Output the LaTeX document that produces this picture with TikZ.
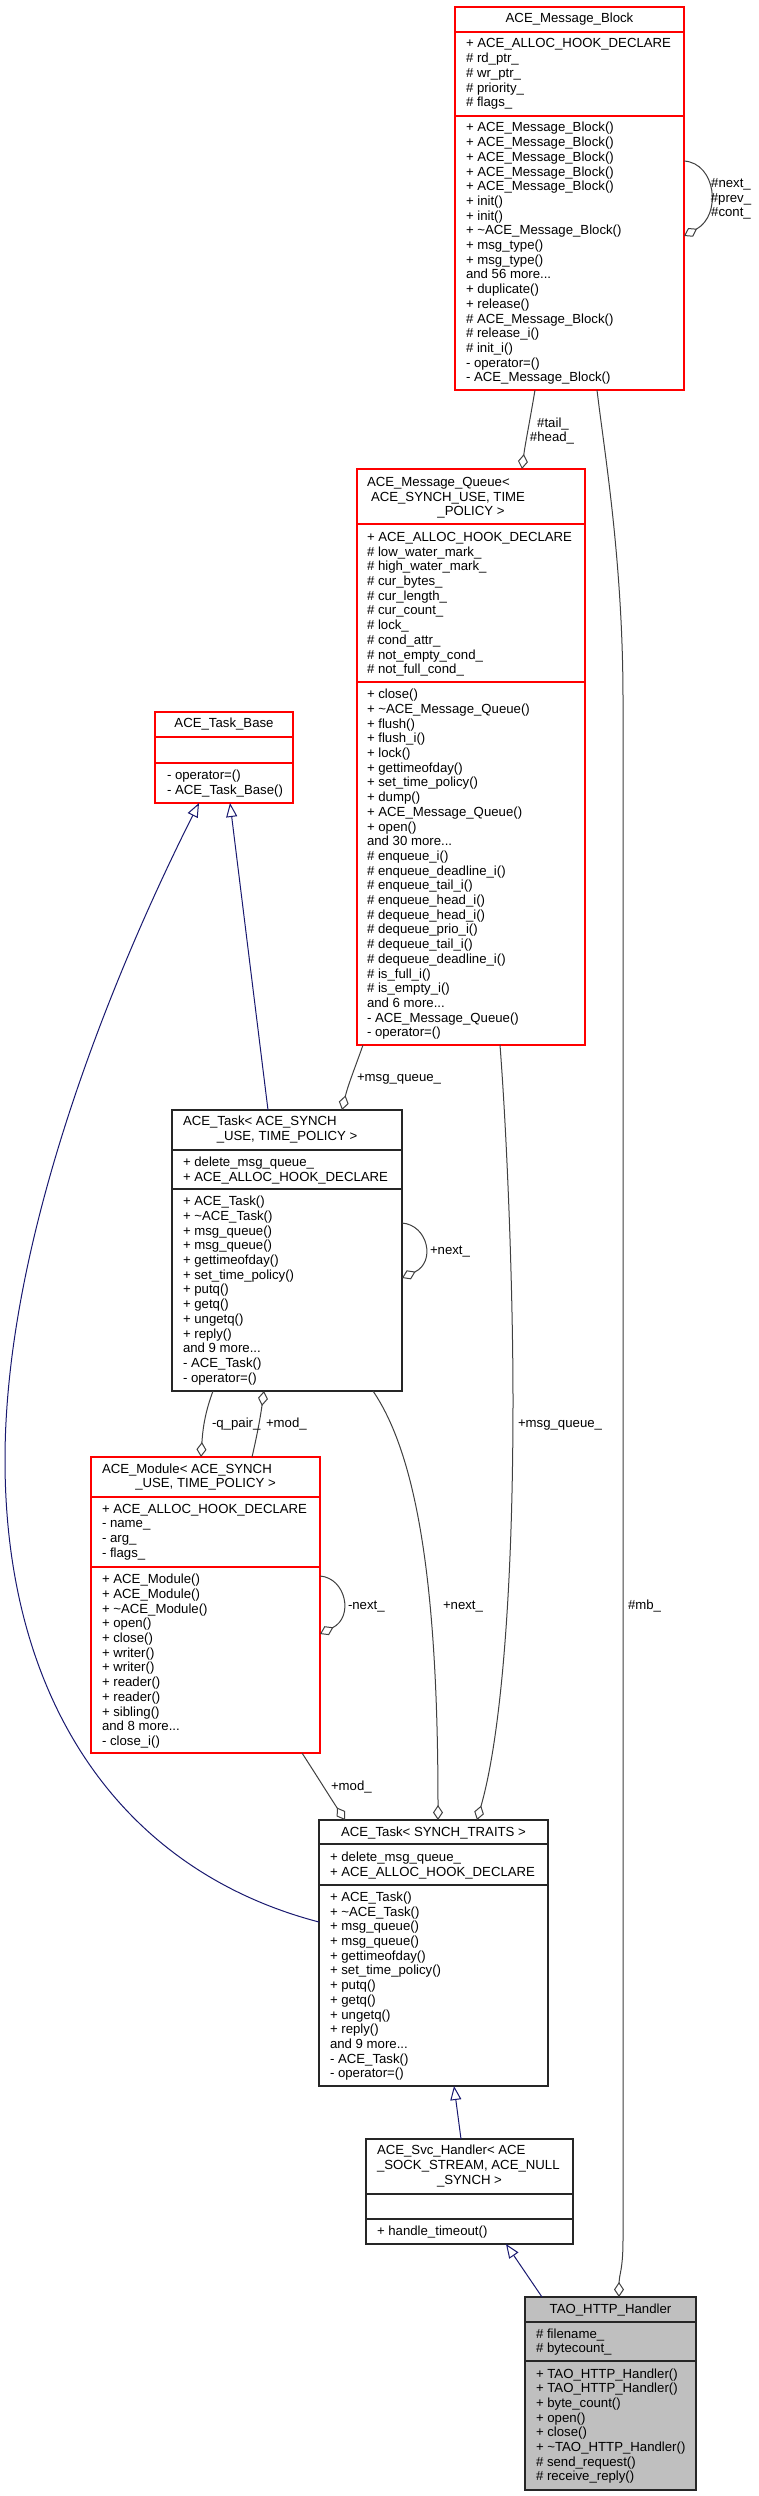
\documentclass[tikz,border=0pt]{standalone}
\usepackage{fontspec}
\setmainfont{Liberation Sans}
\usetikzlibrary{arrows.meta}
\definecolor{boxred}{HTML}{FF0000}
\definecolor{edgegray}{HTML}{404040}
\definecolor{inhblue}{HTML}{191970}
\definecolor{tagray}{HTML}{BFBFBF}
\newcommand\mydots{...}
\tikzset{
 txt/.style={font=\fontsize{13.2}{14.7}\selectfont, inner sep=0pt, outer sep=0pt},
 redbox/.style={draw=boxred, line width=1.5pt, fill=white},
 blkbox/.style={draw=black!85, line width=1.5pt, fill=white},
 graybox/.style={draw=black!85, line width=1.5pt, fill=tagray},
 agg/.style={draw=edgegray, line width=1pt, -{Diamond[open, length=15pt, width=10pt, line width=1pt]}},
 inh/.style={draw=inhblue, line width=1pt, -{Triangle[open, length=14pt, width=11pt, line width=1pt]}},
}
\newcommand\umlbox[7]{%
 \node[#2, anchor=north west, minimum width={#5-#3}, minimum height={#6-#4}, inner sep=0pt, outer sep=0pt] (#1) at (#3,#4) {};
 \foreach \sy in {#7} \draw[#2, fill=none] (#3,\sy) -- (#5,\sy);}
\newcommand\umllines[4]{%
 \foreach \tx [count=\ix from 0] in {#4} \node[txt, anchor=base west] (#1-\ix) at (#2,{#3+\ix*14.7}) {\tx};}
\begin{document}
\begin{tikzpicture}[x=1pt,y=-1pt]
\fill[white] (0,0) rectangle (758,2496);
\useasboundingbox (0,0) rectangle (758,2496);

% ---------- boxes ----------
\umlbox{mb}{redbox}{455}{7}{684}{390}{32,116}
\umlbox{mq}{redbox}{357}{469}{585}{1045}{524,682}
\umlbox{tb}{redbox}{155}{712}{293}{803}{737,763}
\umlbox{ta}{blkbox}{172}{1110}{402}{1391}{1150,1189}
\umlbox{md}{redbox}{91}{1457}{320}{1753}{1497,1567}
\umlbox{ts}{blkbox}{319}{1820}{548}{2086}{1844,1885}
\umlbox{sv}{blkbox}{366}{2139}{573}{2244}{2194,2219}
\umlbox{th}{graybox}{525}{2297}{696}{2490}{2322,2361}

% ---------- ACE_Message_Block ----------
\node[txt, anchor=base] (mb-title) at (569.5,23) {ACE\_Message\_Block};
\umllines{mba}{466}{48}{{+ ACE\_ALLOC\_HOOK\_DECLARE},{\# rd\_ptr\_},{\# wr\_ptr\_},{\# priority\_},{\# flags\_}}
\umllines{mbm}{466}{132}{{+ ACE\_Message\_Block()},{+ ACE\_Message\_Block()},{+ ACE\_Message\_Block()},{+ ACE\_Message\_Block()},{+ ACE\_Message\_Block()},{+ init()},{+ init()},{+ \textasciitilde ACE\_Message\_Block()},{+ msg\_type()},{+ msg\_type()},{and 56 more\mydots},{+ duplicate()},{+ release()},{\# ACE\_Message\_Block()},{\# release\_i()},{\# init\_i()},{- operator=()},{- ACE\_Message\_Block()}}

% ---------- ACE_Message_Queue ----------
\node[txt, anchor=base west] (mq-t0) at (367,486.5) {ACE\_Message\_Queue<};
\node[txt, anchor=base west] (mq-t1) at (371,501.5) {ACE\_SYNCH\_USE, TIME};
\node[txt, anchor=base] (mq-t2) at (471,515.5) {\_POLICY >};
\umllines{mqa}{367}{541.4}{{+ ACE\_ALLOC\_HOOK\_DECLARE},{\# low\_water\_mark\_},{\# high\_water\_mark\_},{\# cur\_bytes\_},{\# cur\_length\_},{\# cur\_count\_},{\# lock\_},{\# cond\_attr\_},{\# not\_empty\_cond\_},{\# not\_full\_cond\_}}
\umllines{mqm}{367}{698.7}{{+ close()},{+ \textasciitilde ACE\_Message\_Queue()},{+ flush()},{+ flush\_i()},{+ lock()},{+ gettimeofday()},{+ set\_time\_policy()},{+ dump()},{+ ACE\_Message\_Queue()},{+ open()},{and 30 more\mydots},{\# enqueue\_i()},{\# enqueue\_deadline\_i()},{\# enqueue\_tail\_i()},{\# enqueue\_head\_i()},{\# dequeue\_head\_i()},{\# dequeue\_prio\_i()},{\# dequeue\_tail\_i()},{\# dequeue\_deadline\_i()},{\# is\_full\_i()},{\# is\_empty\_i()},{and 6 more\mydots},{- ACE\_Message\_Queue()},{- operator=()}}

% ---------- ACE_Task_Base ----------
\node[txt, anchor=base] (tb-title) at (224,727.7) {ACE\_Task\_Base};
\umllines{tbm}{167}{779.7}{{- operator=()},{- ACE\_Task\_Base()}}

% ---------- ACE_Task< ACE_SYNCH_USE, TIME_POLICY > ----------
\node[txt, anchor=base west] (ta-t0) at (183,1125.7) {ACE\_Task< ACE\_SYNCH};
\node[txt, anchor=base] (ta-t1) at (287,1140.7) {\_USE, TIME\_POLICY >};
\umllines{taa}{183}{1166.4}{{+ delete\_msg\_queue\_},{+ ACE\_ALLOC\_HOOK\_DECLARE}}
\umllines{tam}{183}{1205.7}{{+ ACE\_Task()},{+ \textasciitilde ACE\_Task()},{+ msg\_queue()},{+ msg\_queue()},{+ gettimeofday()},{+ set\_time\_policy()},{+ putq()},{+ getq()},{+ ungetq()},{+ reply()},{and 9 more\mydots},{- ACE\_Task()},{- operator=()}}

% ---------- ACE_Module ----------
\node[txt, anchor=base west] (md-t0) at (102,1473.7) {ACE\_Module< ACE\_SYNCH};
\node[txt, anchor=base] (md-t1) at (205.5,1487.7) {\_USE, TIME\_POLICY >};
\umllines{mda}{102}{1513}{{+ ACE\_ALLOC\_HOOK\_DECLARE},{- name\_},{- arg\_},{- flags\_}}
\umllines{mdm}{102}{1583.7}{{+ ACE\_Module()},{+ ACE\_Module()},{+ \textasciitilde ACE\_Module()},{+ open()},{+ close()},{+ writer()},{+ writer()},{+ reader()},{+ reader()},{+ sibling()},{and 8 more\mydots},{- close\_i()}}

% ---------- ACE_Task< SYNCH_TRAITS > ----------
\node[txt, anchor=base] (ts-title) at (433.5,1836.7) {ACE\_Task< SYNCH\_TRAITS >};
\umllines{tsa}{330}{1861.4}{{+ delete\_msg\_queue\_},{+ ACE\_ALLOC\_HOOK\_DECLARE}}
\umllines{tsm}{330}{1901.4}{{+ ACE\_Task()},{+ \textasciitilde ACE\_Task()},{+ msg\_queue()},{+ msg\_queue()},{+ gettimeofday()},{+ set\_time\_policy()},{+ putq()},{+ getq()},{+ ungetq()},{+ reply()},{and 9 more\mydots},{- ACE\_Task()},{- operator=()}}

% ---------- ACE_Svc_Handler ----------
\node[txt, anchor=base west] (sv-t0) at (377,2154.7) {ACE\_Svc\_Handler< ACE};
\node[txt, anchor=base west] (sv-t1) at (377,2169.7) {\_SOCK\_STREAM, ACE\_NULL};
\node[txt, anchor=base] (sv-t2) at (469.5,2184.7) {\_SYNCH >};
\umllines{svm}{377}{2235.4}{{+ handle\_timeout()}}

% ---------- TAO_HTTP_Handler ----------
\node[txt, anchor=base] (th-title) at (610.5,2313.7) {TAO\_HTTP\_Handler};
\umllines{tha}{536}{2338}{{\# filename\_},{\# bytecount\_}}
\umllines{thm}{536}{2378}{{+ TAO\_HTTP\_Handler()},{+ TAO\_HTTP\_Handler()},{+ byte\_count()},{+ open()},{+ close()},{+ \textasciitilde TAO\_HTTP\_Handler()},{\# send\_request()},{\# receive\_reply()}}

% ---------- connectors ----------
\draw[agg] (mb.east |- 0,161) .. controls (716,163) and (722,215) .. (mb.east |- 0,236);
\draw[agg] (mb.south -| 535,0) .. controls (530,420) and (525,445) .. (mq.north -| 522,0);
\draw[agg] (mb.south -| 597,0) .. controls (604,450) and (623,560) .. (623,700) -- (623,2240) .. controls (623,2270) and (619,2275) .. (th.north -| 619,0);
\draw[agg] (mq.south -| 363,0) .. controls (356,1065) and (348,1085) .. (ta.north -| 342,0);
\draw[agg] (mq.south -| 500,0) .. controls (508,1150) and (513,1300) .. (513,1400) .. controls (513,1600) and (500,1740) .. (ts.north -| 477,0);
\draw[agg] (ta.south -| 373,0) .. controls (420,1460) and (438,1600) .. (ts.north -| 438,0);
\draw[agg] (md.south -| 302,0) .. controls (315,1773) and (330,1797) .. (ts.north -| 345,0);
\draw[agg] (ta.east |- 0,1223) .. controls (428,1225) and (436,1262) .. (ta.east |- 0,1278);
\draw[agg] (md.east |- 0,1576) .. controls (346,1578) and (354,1617) .. (md.east |- 0,1634);
\draw[agg] (ta.south -| 213,0) .. controls (206,1410) and (203,1425) .. (md.north -| 201,0);
\draw[agg] (md.north -| 252,0) .. controls (256,1440) and (260,1420) .. (ta.south -| 264,0);
\draw[inh] (ta.north -| 268,0) -- (tb.south -| 230,0);
\draw[inh] (ts.west |- 0,1922) .. controls (120,1870) and (5,1700) .. (5,1460) .. controls (5,1230) and (120,960) .. (tb.south -| 199,0);
\draw[inh] (sv.north -| 461,0) -- (ts.south -| 454,0);
\draw[inh] (th.north -| 542,0) -- (sv.south -| 506,0);

% ---------- connector labels ----------
\node[txt, anchor=base] (l-mbs0) at (731,188) {\#next\_};
\node[txt, anchor=base] (l-mbs1) at (731,202.5) {\#prev\_};
\node[txt, anchor=base] (l-mbs2) at (731,217) {\#cont\_};
\node[txt, anchor=base] (l-th0) at (553,427.7) {\#tail\_};
\node[txt, anchor=base] (l-th1) at (552,441.7) {\#head\_};
\node[txt, anchor=base west] (l-mb) at (628,1609.7) {\#mb\_};
\node[txt, anchor=base west] (l-mq1) at (357,1081.7) {+msg\_queue\_};
\node[txt, anchor=base west] (l-mq2) at (518,1427.7) {+msg\_queue\_};
\node[txt, anchor=base west] (l-next1) at (443,1609.7) {+next\_};
\node[txt, anchor=base west] (l-mod1) at (331,1790.7) {+mod\_};
\node[txt, anchor=base west] (l-next2) at (430,1254.7) {+next\_};
\node[txt, anchor=base west] (l-next3) at (348,1609.7) {-next\_};
\node[txt, anchor=base west] (l-qp) at (212,1427.7) {-q\_pair\_};
\node[txt, anchor=base west] (l-mod2) at (266,1427.7) {+mod\_};
\end{tikzpicture}
\end{document}
